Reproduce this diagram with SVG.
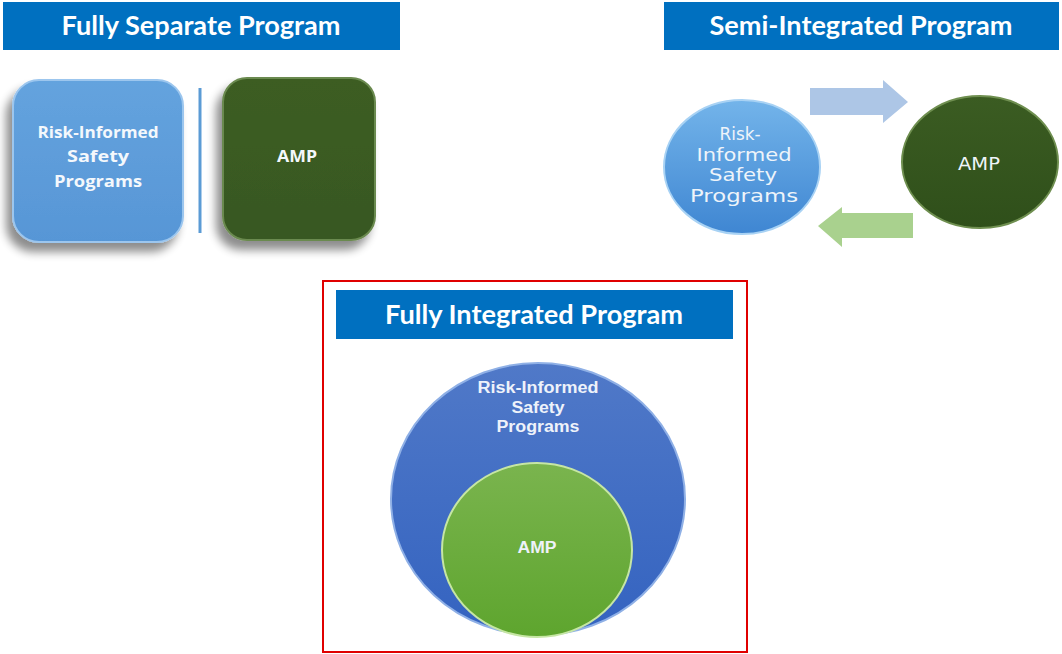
<svg xmlns="http://www.w3.org/2000/svg" width="1062" height="654" viewBox="0 0 1062 654">
<defs>
<style>
.title{font-family:Lato,"Liberation Sans",sans-serif;font-weight:bold;font-size:26px;fill:#fff;text-anchor:middle}
.bar{fill:#0070C0}
.lbl{font-family:"Open Sans","Liberation Sans",sans-serif;font-weight:bold;font-size:16px;fill:#f4f8fc;text-anchor:middle}
.lbl3{font-family:"Liberation Sans",Arial,sans-serif;font-weight:bold;font-size:16px;fill:#eef2fa;text-anchor:middle}
.lbl2{font-family:"DejaVu Sans",sans-serif;font-size:18px;fill:#eef4fa;text-anchor:middle}
</style>
<filter id="sh" x="-30%" y="-30%" width="160%" height="160%">
<feGaussianBlur in="SourceAlpha" stdDeviation="5"/>
<feOffset dx="-6" dy="9" result="b"/>
<feComponentTransfer><feFuncA type="linear" slope="0.45"/></feComponentTransfer>
<feMerge><feMergeNode/><feMergeNode in="SourceGraphic"/></feMerge>
</filter>
<linearGradient id="gBlueRect" x1="0" y1="0" x2="0" y2="1">
<stop offset="0" stop-color="#64a3de"/><stop offset="1" stop-color="#5796d6"/>
</linearGradient>
<linearGradient id="gGreenRect" x1="0" y1="0" x2="0" y2="1">
<stop offset="0" stop-color="#3c5d22"/><stop offset="1" stop-color="#385820"/>
</linearGradient>
<linearGradient id="gSemiBlue" x1="0" y1="0" x2="0" y2="1">
<stop offset="0" stop-color="#73b4ea"/><stop offset="1" stop-color="#3f86d2"/>
</linearGradient>
<linearGradient id="gSemiGreen" x1="0" y1="0" x2="0" y2="1">
<stop offset="0" stop-color="#3b5c22"/><stop offset="1" stop-color="#2f4f1a"/>
</linearGradient>
<linearGradient id="gBig" x1="0" y1="0" x2="0" y2="1">
<stop offset="0" stop-color="#5079c8"/><stop offset="1" stop-color="#3463c0"/>
</linearGradient>
<linearGradient id="gInner" x1="0" y1="0" x2="0" y2="1">
<stop offset="0" stop-color="#7ab44e"/><stop offset="1" stop-color="#5ea52e"/>
</linearGradient>
</defs>
<rect width="1062" height="654" fill="#fff"/>

<g id="fully-separate">
<rect class="bar" x="3" y="2" width="397" height="48"/>
<text class="title" x="201" y="35" textLength="279" lengthAdjust="spacingAndGlyphs">Fully Separate Program</text>
<g id="fs-risk">
<rect x="13" y="80" width="170" height="162" rx="26" fill="url(#gBlueRect)" stroke="#9cc6ee" stroke-width="2" filter="url(#sh)"/>
<text class="lbl" x="98" y="138" textLength="121" lengthAdjust="spacingAndGlyphs">Risk-Informed</text>
<text class="lbl" x="98" y="162" textLength="62" lengthAdjust="spacingAndGlyphs">Safety</text>
<text class="lbl" x="98" y="187" textLength="88" lengthAdjust="spacingAndGlyphs">Programs</text>
</g>
<g id="fs-amp">
<rect x="223" y="78" width="152" height="162" rx="24" fill="url(#gGreenRect)" stroke="#6b8a50" stroke-width="2" filter="url(#sh)"/>
<text class="lbl" x="297" y="162" textLength="40" lengthAdjust="spacingAndGlyphs">AMP</text>
</g>
<line x1="200" y1="88" x2="200" y2="233" stroke="#5b9bd5" stroke-width="3"/>
</g>

<g id="semi-integrated">
<rect class="bar" x="664" y="2" width="395" height="48"/>
<text class="title" x="861" y="35" textLength="303" lengthAdjust="spacingAndGlyphs">Semi-Integrated Program</text>
<g id="si-risk">
<ellipse cx="742" cy="167" rx="78" ry="67" fill="url(#gSemiBlue)" stroke="#a8d2f4" stroke-width="2"/>
<text class="lbl2" x="740" y="140" textLength="41" lengthAdjust="spacingAndGlyphs">Risk-</text>
<text class="lbl2" x="744" y="161" textLength="95" lengthAdjust="spacingAndGlyphs">Informed</text>
<text class="lbl2" x="743" y="181" textLength="68" lengthAdjust="spacingAndGlyphs">Safety</text>
<text class="lbl2" x="744" y="202" textLength="108" lengthAdjust="spacingAndGlyphs">Programs</text>
</g>
<g id="si-amp">
<ellipse cx="980" cy="162" rx="78" ry="66" fill="url(#gSemiGreen)" stroke="#6f8f50" stroke-width="2"/>
<text class="lbl2" x="979" y="170" style="font-size:17px" textLength="42" lengthAdjust="spacingAndGlyphs">AMP</text>
</g>
</g>

<g id="connectors">
<polygon points="810,88 883,88 883,80 908,102 883,123 883,115 810,115" fill="#adc6e6"/>
<polygon points="913,213 842,213 842,207 818,226 842,247 842,238 913,238" fill="#a9d18e"/>
</g>

<g id="fully-integrated">
<rect x="323" y="281" width="424" height="371" fill="none" stroke="#e00000" stroke-width="2"/>
<rect class="bar" x="336" y="290" width="397" height="49"/>
<text class="title" x="534" y="324" textLength="298" lengthAdjust="spacingAndGlyphs">Fully Integrated Program</text>
<g id="fi-risk">
<ellipse cx="538" cy="499" rx="147" ry="136" fill="url(#gBig)" stroke="#8fb0e6" stroke-width="2"/>
<text class="lbl3" x="538" y="393" textLength="121" lengthAdjust="spacingAndGlyphs">Risk-Informed</text>
<text class="lbl3" x="538" y="413" textLength="53" lengthAdjust="spacingAndGlyphs">Safety</text>
<text class="lbl3" x="538" y="432" textLength="83" lengthAdjust="spacingAndGlyphs">Programs</text>
</g>
<g id="fi-amp">
<ellipse cx="537" cy="550" rx="95" ry="87" fill="url(#gInner)" stroke="#c6e6a4" stroke-width="2"/>
<text class="lbl3" x="537" y="553" textLength="39" lengthAdjust="spacingAndGlyphs">AMP</text>
</g>
</g>
</svg>
